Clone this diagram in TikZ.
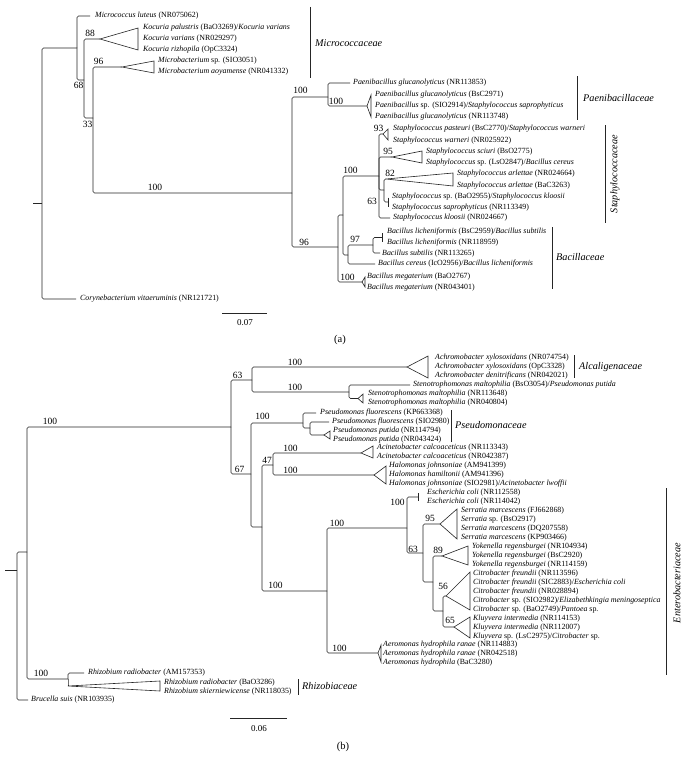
\documentclass[tikz,border=0pt]{standalone}
\usepackage{fontspec}
\setmainfont{Liberation Serif}
\newcommand{\mkleaf}[4]{\node[leaf] (#1) at (#2,#3) {#4};}
\newcommand{\mkbs}[4]{\node[bsv] (#1) at (#2,#3) {#4};}
\begin{document}
\begin{tikzpicture}[x=1pt,y=-1pt,
  trl/.style={draw=black!85, line width=0.6pt, rounded corners=1.5pt},
  tri/.style={draw=black!85, line width=0.6pt},
  leaf/.style={anchor=west, inner sep=0pt, font=\fontsize{7.9}{8}\selectfont},
  bsv/.style={inner sep=0pt, font=\fontsize{9.5}{10}\selectfont},
  fam/.style={anchor=west, inner sep=0pt, font=\fontsize{10.2}{11}\selectfont\itshape},
  famrot/.style={inner sep=0pt, rotate=90, font=\fontsize{10.2}{11}\selectfont\itshape},
  famline/.style={draw=black!85, line width=0.9pt},
  panel/.style={inner sep=0pt, font=\fontsize{10.5}{11}\selectfont},
  scl/.style={inner sep=0pt, font=\fontsize{9}{10}\selectfont}]
\useasboundingbox (0,0) rectangle (685,768);
\fill[white] (0,0) rectangle (685,768);

% ================= (a) =================
\coordinate (a0s) at (33,203);
\coordinate (a0) at (42,203);
\coordinate (n68) at (77,48);
\coordinate (cory) at (76,299);
\coordinate (lut) at (90,16);
\coordinate (n33) at (84,80);
\coordinate (tKo) at (100,39);
\coordinate (n93) at (93,118);
\coordinate (tMi) at (122,67);
\coordinate (nX) at (292,193);
\coordinate (nP) at (328,97);
\coordinate (pae1) at (350,83);
\coordinate (tPa) at (367,106);
\coordinate (n96) at (338,247);
\coordinate (nA) at (343,215);
\coordinate (tMe) at (362,282);
\coordinate (nS) at (379,176);
\coordinate (nB) at (348,255);
\coordinate (n97) at (373,245);
\coordinate (cer) at (375,264);
\coordinate (nL) at (382,237.5);
\coordinate (sub) at (380,253);
\coordinate (t93) at (383,134);
\coordinate (t95) at (392,157);
\coordinate (n63s) at (384,190);
\coordinate (t82) at (386,179);
\coordinate (nK) at (388,202);
\coordinate (klo) at (390,218);

\draw[trl] (a0s) -- (a0);
\draw[trl] (a0) |- (n68);  \draw[trl] (a0) |- (cory);
\draw[trl] (n68) |- (lut); \draw[trl] (n68) |- (n33);
\draw[trl] (n33) |- (tKo); \draw[trl] (n33) |- (n93);
\draw[trl] (n93) |- (tMi); \draw[trl] (n93) |- (nX);
\draw[trl] (nX) |- (nP);   \draw[trl] (nX) |- (n96);
\draw[trl] (nP) |- (pae1); \draw[trl] (nP) |- (tPa);
\draw[trl] (n96) |- (nA);  \draw[trl] (n96) |- (tMe);
\draw[trl] (nA) |- (nS);   \draw[trl] (nA) |- (nB);
\draw[trl] (nB) |- (n97);  \draw[trl] (nB) |- (cer);
\draw[trl] (n97) |- (nL);  \draw[trl] (n97) |- (sub);
\draw[trl] (nL) ++(0,-4.5) -- ++(0,9);
\draw[trl] (nS) |- (t93);  \draw[trl] (nS) |- (t95);
\draw[trl] (nS) |- (n63s); \draw[trl] (nS) |- (klo);
\draw[trl] (n63s) |- (t82); \draw[trl] (n63s) |- (nK);
\draw[trl] (nK) ++(0,-4.5) -- ++(0,9);

\draw[tri] (tKo) -- (138,28) -- (138,50) -- cycle;
\draw[tri] (tMi) -- (154,61) -- (154,73) -- cycle;
\draw[tri] (tPa) -- (371,95) -- (371,117) -- cycle;
\draw[tri] (tMe) -- (365,277) -- (365,287) -- cycle;
\draw[tri] (t93) -- (388,129) -- (388,140) -- cycle;
\draw[tri] (t95) -- (422,151) -- (422,163) -- cycle;
\draw[tri] (t82) -- (453,173) -- (453,186) -- cycle;

\mkleaf{la1}{95}{16}{\textit{Micrococcus luteus} (NR075062)}
\mkleaf{la2}{143}{28}{\textit{Kocuria palustris} (BaO3269)/\textit{Kocuria varians}}
\mkleaf{la3}{143}{39}{\textit{Kocuria varians} (NR029297)}
\mkleaf{la4}{143}{50}{\textit{Kocuria rizhopila} (OpC3324)}
\mkleaf{la5}{158}{61}{\textit{Microbacterium} sp. (SIO3051)}
\mkleaf{la6}{158}{72}{\textit{Microbacterium aoyamense} (NR041332)}
\mkleaf{la7}{353}{83}{\textit{Paenibacillus glucanolyticus} (NR113853)}
\mkleaf{la8}{375}{95}{\textit{Paenibacillus glucanolyticus} (BsC2971)}
\mkleaf{la9}{375}{106}{\textit{Paenibacillus} sp. (SIO2914)/\textit{Staphylococcus saprophyticus}}
\mkleaf{la10}{375}{117}{\textit{Paenibacillus glucanolyticus} (NR113748)}
\mkleaf{la11}{393}{129}{\textit{Staphylococcus pasteuri} (BsC2770)/\textit{Staphylococcus warneri}}
\mkleaf{la12}{393}{140.5}{\textit{Staphylococcus warneri} (NR025922)}
\mkleaf{la13}{426}{152}{\textit{Staphylococcus sciuri} (BsO2775)}
\mkleaf{la14}{426}{163}{\textit{Staphylococcus} sp. (LsO2847)/\textit{Bacillus cereus}}
\mkleaf{la15}{457}{174}{\textit{Staphylococcus arlettae} (NR024664)}
\mkleaf{la16}{457}{185.5}{\textit{Staphylococcus arlettae} (BaC3263)}
\mkleaf{la17}{392}{197}{\textit{Staphylococcus} sp. (BaO2955)/\textit{Staphylococcus kloosii}}
\mkleaf{la18}{392}{207.5}{\textit{Staphylococcus saprophyticus} (NR113349)}
\mkleaf{la19}{393}{218}{\textit{Staphylococcus kloosii} (NR024667)}
\mkleaf{la20}{387}{232}{\textit{Bacillus licheniformis} (BsC2959)/\textit{Bacillus subtilis}}
\mkleaf{la21}{387}{243}{\textit{Bacillus licheniformis} (NR118959)}
\mkleaf{la22}{382}{253.5}{\textit{Bacillus subtilis} (NR113265)}
\mkleaf{la23}{378}{264}{\textit{Bacillus cereus} (IcO2956)/\textit{Bacillus licheniformis}}
\mkleaf{la24}{367}{277}{\textit{Bacillus megaterium} (BaO2767)}
\mkleaf{la25}{367}{287.5}{\textit{Bacillus megaterium} (NR043401)}
\mkleaf{la26}{80}{299}{\textit{Corynebacterium vitaeruminis} (NR121721)}

\mkbs{ba1}{90}{33}{88}
\mkbs{ba2}{78.5}{85}{68}
\mkbs{ba3}{87.5}{124}{33}
\mkbs{ba4}{98.5}{61}{96}
\mkbs{ba5}{155}{187}{100}
\mkbs{ba6}{300.5}{90}{100}
\mkbs{ba7}{336}{101}{100}
\mkbs{ba8}{304}{242}{96}
\mkbs{ba9}{350.5}{170}{100}
\mkbs{ba10}{355}{239}{97}
\mkbs{ba11}{347.5}{277}{100}
\mkbs{ba12}{378.5}{128}{93}
\mkbs{ba13}{388}{151}{95}
\mkbs{ba14}{390}{173.5}{82}
\mkbs{ba15}{372}{201}{63}

\draw[famline] (310,7) coordinate (fa1a) -- (310,78) coordinate (fa1b);
\node[fam] (fa1) at (315,43) {Micrococcaceae};
\draw[famline] (577,76) coordinate (fa2a) -- (577,120) coordinate (fa2b);
\node[fam] (fa2) at (583,98) {Paenibacillaceae};
\draw[famline] (605,125) coordinate (fa3a) -- (605,223) coordinate (fa3b);
\node[famrot] (fa3) at (615,174) {Staphylococcaceae};
\draw[famline] (552,227) coordinate (fa4a) -- (552,289) coordinate (fa4b);
\node[fam] (fa4) at (556,257) {Bacillaceae};

\draw[trl] (222,313) coordinate (sa1) -- (267,313) coordinate (sa2);
\node[scl] (sa) at (245,323) {0.07};
\node[panel] (pa) at (340,340) {(a)};

% ================= (b) =================
\coordinate (b0s) at (5,570);
\coordinate (b0) at (17,570);
\coordinate (b1) at (27,552);
\coordinate (bru) at (28,700);
\coordinate (nR) at (231,427);
\coordinate (nRh) at (68,679);
\coordinate (rh1) at (84,673);
\coordinate (tRh) at (68,686);
\coordinate (n63b) at (252,380);
\coordinate (n67) at (251,474);
\coordinate (tAl) at (407,367);
\coordinate (nSt) at (349,392);
\coordinate (st1) at (410,385);
\coordinate (tSt) at (358,398.5);
\coordinate (nPs) at (303,423);
\coordinate (ps1) at (316,413);
\coordinate (nPs2) at (310,428);
\coordinate (ps2) at (329,422);
\coordinate (tPu) at (324,435);
\coordinate (n47) at (262,527);
\coordinate (nAH) at (273,465);
\coordinate (tAc) at (361,453);
\coordinate (tHa) at (374,475);
\coordinate (nE) at (327,591);
\coordinate (n407) at (407,528);
\coordinate (tAe) at (378,653);
\coordinate (nEc) at (418,497);
\coordinate (n423) at (423,553);
\coordinate (tSe) at (440,524);
\coordinate (n433) at (433,582);
\coordinate (tYo) at (442,556);
\coordinate (n443) at (443,611);
\coordinate (tCi) at (446,596);
\coordinate (tKl) at (454,627);

\draw[trl] (b0s) -- (b0);
\draw[trl] (b0) |- (b1);   \draw[trl] (b0) |- (bru);
\draw[trl] (b1) |- (nR);   \draw[trl] (b1) |- (nRh);
\draw[trl] (nRh) |- (rh1); \draw[trl] (nRh) |- (tRh);
\draw[trl] (nR) |- (n63b); \draw[trl] (nR) |- (n67);
\draw[trl] (n63b) |- (tAl); \draw[trl] (n63b) |- (nSt);
\draw[trl] (nSt) |- (st1); \draw[trl] (nSt) |- (tSt);
\draw[trl] (n67) |- (nPs); \draw[trl] (n67) |- (n47);
\draw[trl] (nPs) |- (ps1); \draw[trl] (nPs) |- (nPs2);
\draw[trl] (nPs2) |- (ps2); \draw[trl] (nPs2) |- (tPu);
\draw[trl] (n47) |- (nAH); \draw[trl] (n47) |- (nE);
\draw[trl] (nAH) |- (tAc); \draw[trl] (nAH) |- (tHa);
\draw[trl] (nE) |- (n407); \draw[trl] (nE) |- (tAe);
\draw[trl] (n407) |- (nEc); \draw[trl] (n407) |- (n423);
\draw[trl] (nEc) ++(0,-4) -- ++(0,8);
\draw[trl] (n423) |- (tSe); \draw[trl] (n423) |- (n433);
\draw[trl] (n433) |- (tYo); \draw[trl] (n433) |- (n443);
\draw[trl] (n443) |- (tCi); \draw[trl] (n443) |- (tKl);

\draw[tri] (tAl) -- (428,356) -- (428,378) -- cycle;
\draw[tri] (tSt) -- (363,394) -- (363,403) -- cycle;
\draw[tri] (tPu) -- (330,431) -- (330,439) -- cycle;
\draw[tri] (tAc) -- (373,446) -- (373,458) -- cycle;
\draw[tri] (tHa) -- (386,466) -- (386,484) -- cycle;
\draw[tri] (tSe) -- (457,509) -- (457,539) -- cycle;
\draw[tri] (tYo) -- (468,546) -- (468,565) -- cycle;
\draw[tri] (tCi) -- (470,572) -- (470,610) -- cycle;
\draw[tri] (tKl) -- (470,617) -- (470,638) -- cycle;
\draw[tri] (tAe) -- (381,645) -- (381,662) -- cycle;
\draw[tri] (tRh) -- (160,681) -- (160,691) -- cycle;

\mkleaf{lb1}{435}{358}{\textit{Achromobacter xylosoxidans} (NR074754)}
\mkleaf{lb2}{435}{367}{\textit{Achromobacter xylosoxidans} (OpC3328)}
\mkleaf{lb3}{435}{376}{\textit{Achromobacter denitrificans} (NR042021)}
\mkleaf{lb4}{413}{385}{\textit{Stenotrophomonas maltophilia} (BsO3054)/\textit{Pseudomonas putida}}
\mkleaf{lb5}{368}{394}{\textit{Stenotrophomonas maltophilia} (NR113648)}
\mkleaf{lb6}{368}{403}{\textit{Stenotrophomonas maltophilia} (NR040804)}
\mkleaf{lb7}{320}{413}{\textit{Pseudomonas fluorescens} (KP663368)}
\mkleaf{lb8}{332}{422}{\textit{Pseudomonas fluorescens} (SIO2980)}
\mkleaf{lb9}{333}{431}{\textit{Pseudomonas putida} (NR114794)}
\mkleaf{lb10}{333}{439.5}{\textit{Pseudomonas putida} (NR043424)}
\mkleaf{lb11}{377}{447.5}{\textit{Acinetobacter calcoaceticus} (NR113343)}
\mkleaf{lb12}{377}{457}{\textit{Acinetobacter calcoaceticus} (NR042387)}
\mkleaf{lb13}{389}{466}{\textit{Halomonas johnsoniae} (AM941399)}
\mkleaf{lb14}{389}{475}{\textit{Halomonas hamiltonii} (AM941396)}
\mkleaf{lb15}{389}{484}{\textit{Halomonas johnsoniae} (SIO2981)/\textit{Acinetobacter lwoffii}}
\mkleaf{lb16}{427}{493}{\textit{Escherichia coli} (NR112558)}
\mkleaf{lb17}{427}{502}{\textit{Escherichia coli} (NR114042)}
\mkleaf{lb18}{461}{510.5}{\textit{Serratia marcescens} (FJ662868)}
\mkleaf{lb19}{461}{519.5}{\textit{Serratia} sp. (BsO2917)}
\mkleaf{lb20}{461}{528.5}{\textit{Serratia marcescens} (DQ207558)}
\mkleaf{lb21}{461}{537.5}{\textit{Serratia marcescens} (KP903466)}
\mkleaf{lb22}{472}{547}{\textit{Yokenella regensburgei} (NR104934)}
\mkleaf{lb23}{472}{555.5}{\textit{Yokenella regensburgei} (BsC2920)}
\mkleaf{lb24}{472}{564.5}{\textit{Yokenella regensburgei} (NR114159)}
\mkleaf{lb25}{473}{573.5}{\textit{Citrobacter freundii} (NR113596)}
\mkleaf{lb26}{473}{582.5}{\textit{Citrobacter freundii} (SIC2883)/\textit{Escherichia coli}}
\mkleaf{lb27}{473}{591.5}{\textit{Citrobacter freundii} (NR028894)}
\mkleaf{lb28}{473}{600.5}{\textit{Citrobacter} sp. (SIO2982)/\textit{Elizabethkingia meningoseptica}}
\mkleaf{lb29}{473}{609.5}{\textit{Citrobacter} sp. (BaO2749)/\textit{Pantoea} sp.}
\mkleaf{lb30}{473}{618.5}{\textit{Kluyvera intermedia} (NR114153)}
\mkleaf{lb31}{473}{627.5}{\textit{Kluyvera intermedia} (NR112007)}
\mkleaf{lb32}{473}{636.5}{\textit{Kluyvera} sp. (LsC2975)/\textit{Citrobacter} sp.}
\mkleaf{lb33}{383}{645}{\textit{Aeromonas hydrophila ranae} (NR114883)}
\mkleaf{lb34}{383}{654}{\textit{Aeromonas hydrophila ranae} (NR042518)}
\mkleaf{lb35}{383}{663}{\textit{Aeromonas hydrophila} (BaC3280)}
\mkleaf{lb36}{88}{673}{\textit{Rhizobium radiobacter} (AM157353)}
\mkleaf{lb37}{164}{683}{\textit{Rhizobium radiobacter} (BaO3286)}
\mkleaf{lb38}{164}{692}{\textit{Rhizobium skierniewicense} (NR118035)}
\mkleaf{lb39}{31}{700}{\textit{Brucella suis} (NR103935)}

\mkbs{bb1}{50}{421}{100}
\mkbs{bb2}{237.5}{375}{63}
\mkbs{bb3}{295}{362}{100}
\mkbs{bb4}{295}{387}{100}
\mkbs{bb5}{262.5}{416}{100}
\mkbs{bb6}{239.5}{469}{67}
\mkbs{bb7}{267}{460}{47}
\mkbs{bb8}{290.5}{448}{100}
\mkbs{bb9}{290.5}{470}{100}
\mkbs{bb10}{275.5}{585}{100}
\mkbs{bb11}{337}{523}{100}
\mkbs{bb12}{397.5}{502}{100}
\mkbs{bb13}{430}{518}{95}
\mkbs{bb14}{413}{549}{63}
\mkbs{bb15}{438}{550}{89}
\mkbs{bb16}{443}{586}{56}
\mkbs{bb17}{450}{620}{65}
\mkbs{bb18}{339.5}{648}{100}
\mkbs{bb19}{41}{673}{100}

\draw[famline] (574,355) coordinate (fb1a) -- (574,378) coordinate (fb1b);
\node[fam] (fb1) at (579,367) {Alcaligenaceae};
\draw[famline] (451,410) coordinate (fb2a) -- (451,442) coordinate (fb2b);
\node[fam] (fb2) at (455,425) {Pseudomonaceae};
\draw[famline] (666,488) coordinate (fb3a) -- (666,675) coordinate (fb3b);
\node[famrot] (fb3) at (677,583) {Enterobacteriaceae};
\draw[famline] (298,679) coordinate (fb4a) -- (298,695) coordinate (fb4b);
\node[fam] (fb4) at (302,686) {Rhizobiaceae};

\draw[trl] (230,718) coordinate (sb1) -- (287,718) coordinate (sb2);
\node[scl] (sb) at (259,729) {0.06};
\node[panel] (pb) at (343,747) {(b)};
\end{tikzpicture}
\end{document}
